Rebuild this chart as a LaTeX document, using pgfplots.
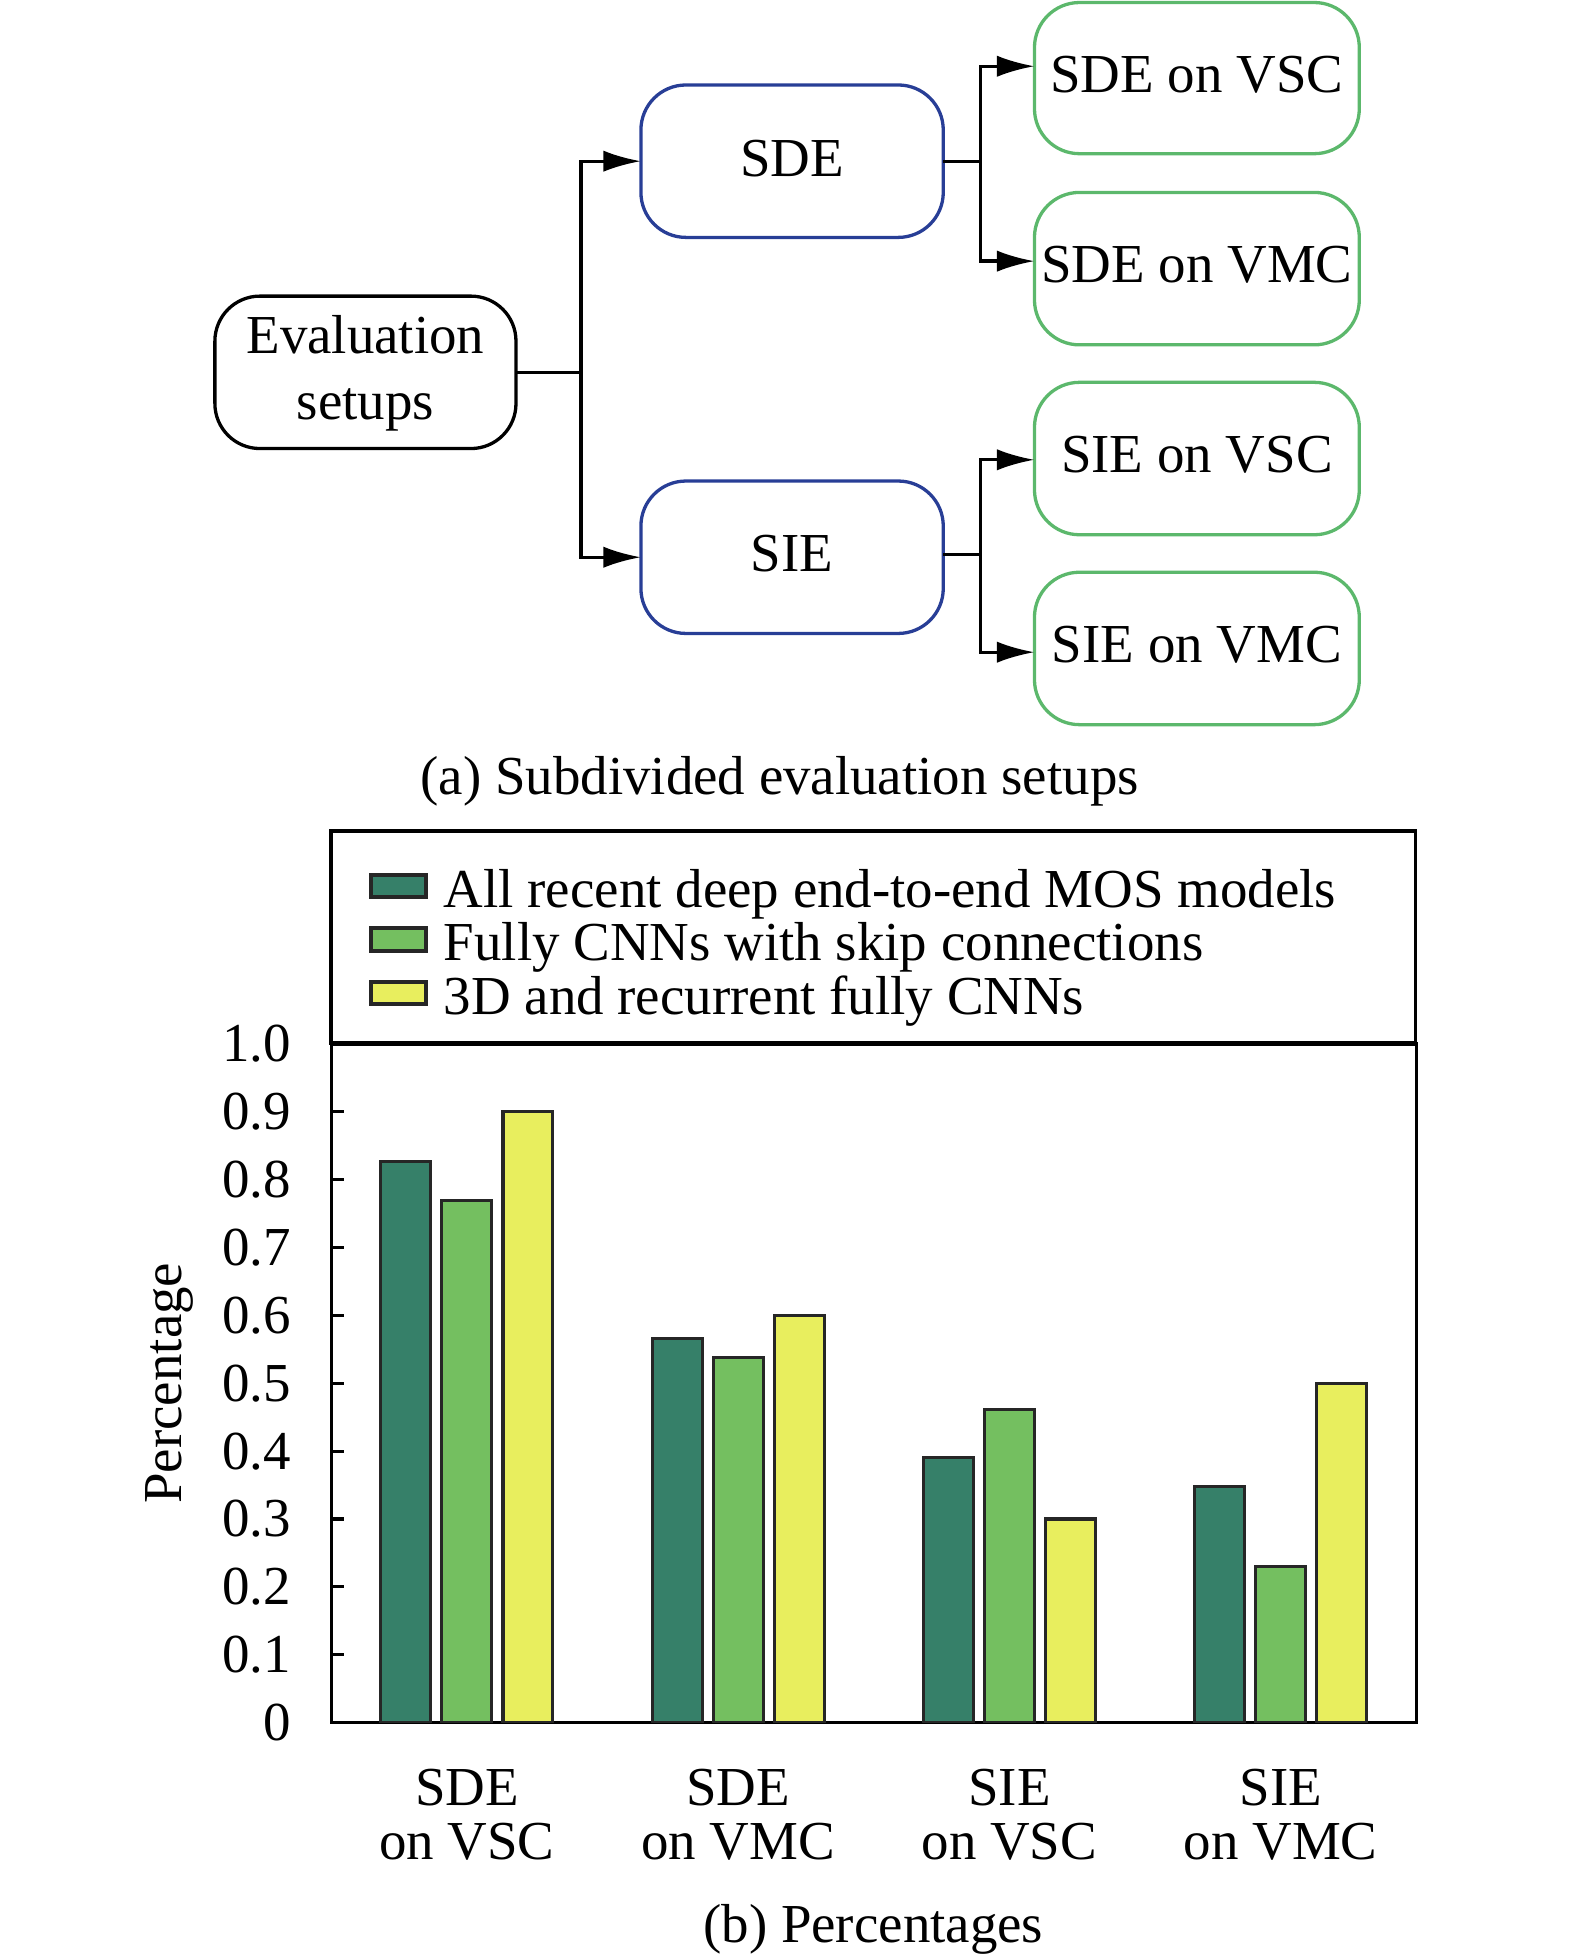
\documentclass[border=0pt]{standalone}
\usepackage{pgfplots}
\pgfplotsset{compat=1.18}
\usepackage{fontspec}
\setmainfont{Liberation Serif}
\usetikzlibrary{arrows.meta}
\definecolor{bdark}{RGB}{54,128,105}
\definecolor{bmid}{RGB}{116,191,96}
\definecolor{byel}{RGB}{232,238,94}
\definecolor{boxblue}{RGB}{40,62,150}
\definecolor{boxgreen}{RGB}{92,184,108}
\begin{document}
\begin{tikzpicture}[font=\fontsize{12.5}{15}\selectfont]
\begin{scope}[x=0.01cm,y=-0.01cm]
\path[use as bounding box] (0,0) rectangle (1261,1568);
\tikzset{bx/.style={line width=0.75pt, rounded corners=0.36cm},
         ar/.style={line width=0.75pt, -{Latex[length=0.3cm,width=0.17cm]}}}
% root
\draw[bx, black] (172,237) rectangle (413,359);
\node[align=center, font=\fontsize{12.5}{15}\selectfont] at (292.5,299) {Evaluation\\setups};
% level 1
\draw[bx, boxblue] (513,68) rectangle (755,190);
\node at (634,127) {SDE};
\draw[bx, boxblue] (513,385) rectangle (755,507);
\node at (634,443) {SIE};
% level 2
\draw[bx, boxgreen] (828,2) rectangle (1088,123);
\node at (958,60) {SDE on VSC};
\draw[bx, boxgreen] (828,154) rectangle (1088,276);
\node at (958,212) {SDE on VMC};
\draw[bx, boxgreen] (828,306) rectangle (1088,428);
\node at (958,364) {SIE on VSC};
\draw[bx, boxgreen] (828,458) rectangle (1088,580);
\node at (958,516) {SIE on VMC};
% connectors
\draw[line width=0.75pt] (413,298) -- (465,298);
\draw[ar] (465,298) |- (513,129);
\draw[ar] (465,298) |- (513,446);
\draw[line width=0.75pt] (755,129) -- (785,129);
\draw[ar] (785,129) |- (828,53);
\draw[ar] (785,129) |- (828,209);
\draw[line width=0.75pt] (755,444) -- (785,444);
\draw[ar] (785,444) |- (828,368);
\draw[ar] (785,444) |- (828,522);
% captions
\node at (624,625) {(a) Subdivided evaluation setups};
\node at (699,1544) {(b) Percentages};
% legend frame
\draw[line width=0.8pt] (265,835) rectangle (1133,665);
\end{scope}
\begin{axis}[
  at={(2.65cm,-13.78cm)}, anchor=south west,
  scale only axis, width=8.68cm, height=5.43cm,
  xmin=-0.5, xmax=3.5, ymin=0, ymax=1,
  xtick={0,1,2,3},
  xticklabels={{SDE\\on VSC},{SDE\\on VMC},{SIE\\on VSC},{SIE\\on VMC}},
  ytick={0,0.1,0.2,0.3,0.4,0.5,0.6,0.7,0.8,0.9,1.0},
  yticklabels={0,0.1,0.2,0.3,0.4,0.5,0.6,0.7,0.8,0.9,1.0},
  tick align=inside, xtick pos=bottom, ytick pos=left,
  major tick length=0.1cm,
  tick style={black, line width=0.7pt},
  axis line style={line width=0.8pt},
  yticklabel style={font=\fontsize{12.5}{15}\selectfont, xshift=-0.2cm},
  xticklabel style={font=\fontsize{12.5}{12.2}\selectfont, align=center, yshift=-0.25cm},
  ylabel={Percentage},
  ylabel style={font=\fontsize{12.5}{15}\selectfont},
  every axis y label/.style={at={(axis description cs:-0.149,0.5)}, rotate=90, anchor=center},
  legend style={at={(0,1)}, anchor=south west, xshift=0.32cm, yshift=0.12cm,
    draw=none, fill=none, inner sep=0pt, outer sep=0pt, row sep=0pt, column sep=0.14cm,
    nodes={inner sep=0pt, text height=8.5pt, text depth=3.3pt},
    font=\fontsize{12.5}{15}\selectfont},
  legend cell align=left,
  legend image code/.code={\path[draw=none, fill=none] (0cm,0.04cm) rectangle (0.44cm,0.22cm);
    \draw[#1, line width=0.9pt, overlay] (0cm,-0.01cm) rectangle (0.44cm,0.17cm);},
]
\addplot[ybar, bar width=0.184, bar shift=-0.225, fill=bdark, draw=black!85, line width=0.7pt]
  coordinates {(0,0.827) (1,0.566) (2,0.391) (3,0.348)};
\addlegendentry{All recent deep end-to-end MOS models}
\addplot[ybar, bar width=0.184, bar shift=0, fill=bmid, draw=black!85, line width=0.7pt]
  coordinates {(0,0.769) (1,0.538) (2,0.462) (3,0.230)};
\addlegendentry{Fully CNNs with skip connections}
\addplot[ybar, bar width=0.184, bar shift=0.225, fill=byel, draw=black!85, line width=0.7pt]
  coordinates {(0,0.900) (1,0.600) (2,0.300) (3,0.500)};
\addlegendentry{3D and recurrent fully CNNs}
\end{axis}
\end{tikzpicture}
\end{document}
